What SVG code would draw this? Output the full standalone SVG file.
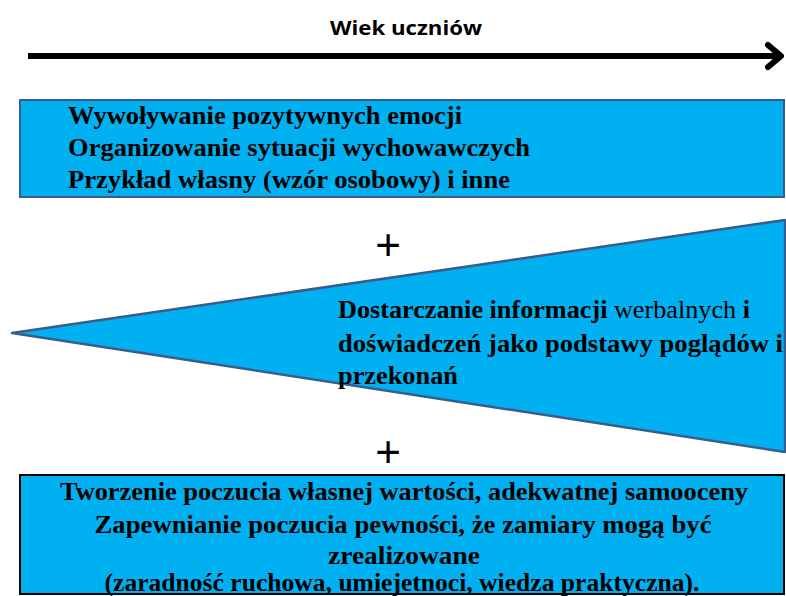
<svg xmlns="http://www.w3.org/2000/svg" width="786" height="596" viewBox="0 0 786 596">
<style>
.t{font-size:25px;font-weight:bold;fill:#000}
.n{font-weight:normal}
.s{font-size:20px;font-weight:bold;fill:#000}
.fill{fill:#00B0F0}
.plus{font-size:44px;fill:#000}
</style>
<rect width="786" height="596" fill="#fff"/>
<g id="axis" font-family="Open Sans, Liberation Sans, sans-serif">
<text class="s" x="406" y="35" text-anchor="middle" textLength="152" lengthAdjust="spacingAndGlyphs">Wiek uczniów</text>
</g>
<g id="connectors">
<line x1="28" y1="56" x2="780" y2="56" stroke="#000" stroke-width="6"/>
<polyline points="768,45 781,56 768,67" fill="none" stroke="#000" stroke-width="6" stroke-linecap="round" stroke-linejoin="round"/>
</g>
<g id="box-top" font-family="Liberation Serif, DejaVu Serif, serif">
<rect class="fill" x="20" y="100" width="764" height="97" stroke="#385D8A" stroke-width="2"/>
<text class="t" x="68" y="124" textLength="394" lengthAdjust="spacingAndGlyphs">Wywoływanie pozytywnych emocji</text>
<text class="t" x="68" y="156" textLength="462" lengthAdjust="spacingAndGlyphs">Organizowanie sytuacji wychowawczych</text>
<text class="t" x="68" y="188" textLength="442" lengthAdjust="spacingAndGlyphs">Przykład własny (wzór osobowy) i inne</text>
</g>
<g id="plus1" font-family="Liberation Sans, sans-serif">
<text class="plus" x="388" y="260" text-anchor="middle">+</text>
</g>
<g id="triangle" font-family="Liberation Serif, DejaVu Serif, serif">
<polygon class="fill" points="12,333 785,220 785,452" stroke="#385D8A" stroke-width="2.5" stroke-linejoin="round"/>
<text class="t" x="338" y="318" textLength="412" lengthAdjust="spacingAndGlyphs">Dostarczanie informacji <tspan class="n">werbalnych</tspan> i</text>
<text class="t" x="338" y="352" textLength="445" lengthAdjust="spacingAndGlyphs">doświadczeń jako podstawy poglądów i</text>
<text class="t" x="338" y="384" textLength="120" lengthAdjust="spacingAndGlyphs">przekonań</text>
</g>
<g id="plus2" font-family="Liberation Sans, sans-serif">
<text class="plus" x="388" y="467" text-anchor="middle">+</text>
</g>
<g id="box-bottom" font-family="Liberation Serif, DejaVu Serif, serif">
<rect class="fill" x="20" y="475" width="764" height="119" stroke="#000" stroke-width="2"/>
<text class="t" x="404" y="500" text-anchor="middle" textLength="688" lengthAdjust="spacingAndGlyphs">Tworzenie poczucia własnej wartości, adekwatnej samooceny</text>
<text class="t" x="403" y="533" text-anchor="middle" textLength="617" lengthAdjust="spacingAndGlyphs">Zapewnianie poczucia pewności, że zamiary mogą być</text>
<text class="t" x="404" y="564" text-anchor="middle" textLength="152" lengthAdjust="spacingAndGlyphs">zrealizowane</text>
<text class="t" x="402" y="591" text-anchor="middle" textLength="595" lengthAdjust="spacingAndGlyphs">(zaradność ruchowa, umiejetnoci, wiedza praktyczna).</text>
</g>
</svg>
